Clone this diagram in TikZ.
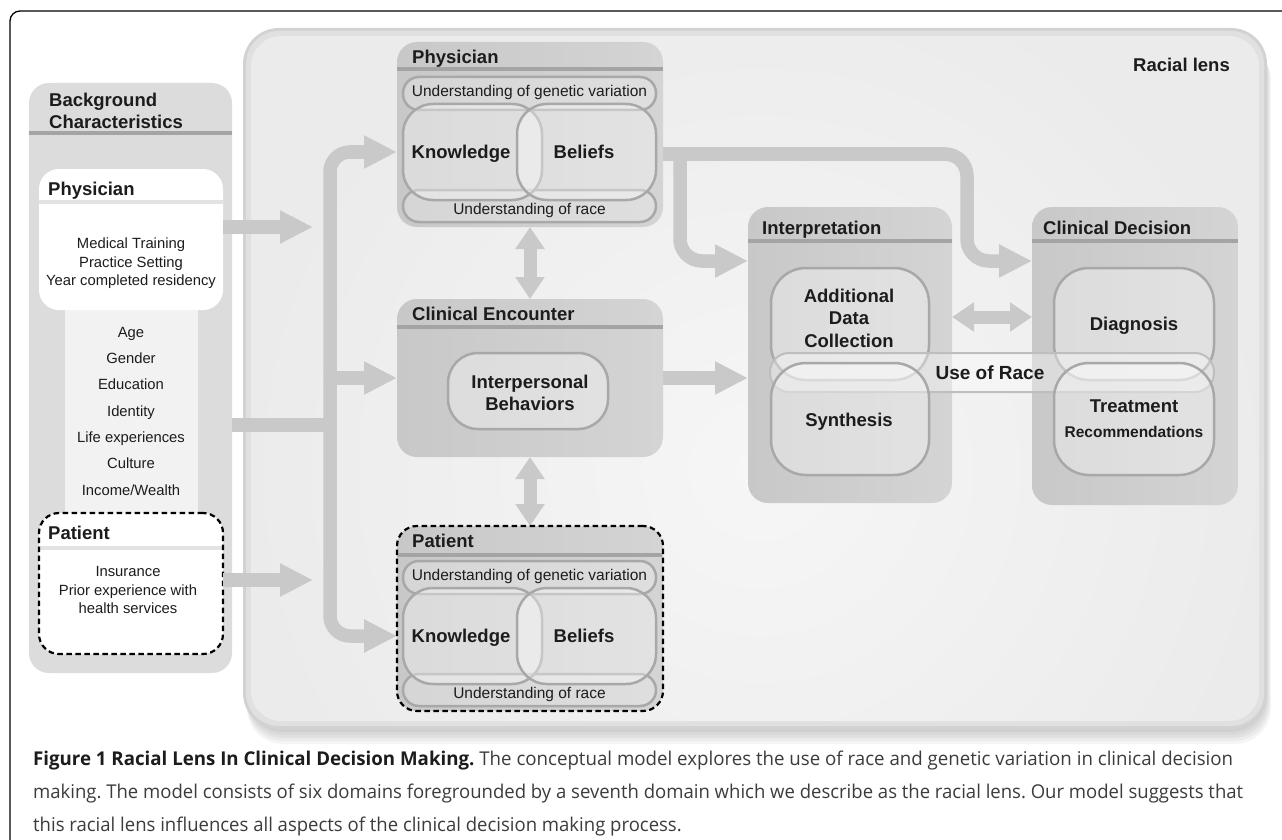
\documentclass[tikz,border=0pt]{standalone}
\usepackage{fontspec}
\usepackage{graphicx}
\setmainfont{Liberation Sans}
\newfontfamily\capfont{Open Sans}
\usetikzlibrary{arrows.meta,calc}
\pgfdeclarelayer{back}
\pgfdeclarelayer{arrowsl}
\pgfsetlayers{back,arrowsl,main}
\definecolor{lensbg}{HTML}{EBEBEB}
\definecolor{lensglow}{HTML}{F6F6F6}
\definecolor{lensrim}{HTML}{D2D2D2}
\definecolor{lensmid}{HTML}{E0E0E0}
\definecolor{bgbox}{HTML}{DCDCDC}
\definecolor{stripc}{HTML}{F1F2F1}
\definecolor{sepdark}{HTML}{A4A4A4}
\definecolor{seplight}{HTML}{E3E3E3}
\definecolor{domA}{HTML}{C8C8C8}
\definecolor{domB}{HTML}{D4D4D4}
\definecolor{instroke}{HTML}{A8A8A8}
\definecolor{arrowc}{HTML}{C9C9C9}
\definecolor{txt}{HTML}{1C1C1C}
\definecolor{captxt}{HTML}{3C3C3C}
\newlength\capwB
\newcommand\captwo{making. The model consists of six domains foregrounded by a seventh domain which we describe as the racial lens. Our model suggests that}
\tikzset{
  hdr/.style={font=\fontsize{18.5}{22}\selectfont\bfseries, text=txt, inner sep=0pt, anchor=base west},
  bld/.style={font=\fontsize{18.5}{22}\selectfont\bfseries, text=txt, inner sep=0pt, anchor=base},
  reg/.style={font=\fontsize{14.8}{17}\selectfont, text=txt, inner sep=0pt, anchor=base},
  und/.style={font=\fontsize{15.5}{18}\selectfont, text=txt, inner sep=0pt, anchor=base},
  dom/.style={rectangle, rounded corners=20pt, inner sep=0pt, outer sep=0pt, left color=domA, right color=domB, draw=none},
  whitebox/.style={rectangle, rounded corners=20pt, inner sep=0pt, outer sep=0pt, fill=white},
  dashbox/.style={draw=black, line width=2.2pt, dash pattern=on 5.5pt off 3.5pt},
  capsule/.style={rectangle, rounded corners=16pt, inner sep=0pt, outer sep=0pt, draw=instroke, line width=2.5pt, fill=white, fill opacity=0.25},
  roundbox/.style={rectangle, rounded corners=30pt, inner sep=0pt, outer sep=0pt, draw=instroke, line width=2.5pt, fill=white, fill opacity=0.35},
  sepline/.style={line width=4pt},
  fat/.style={draw=arrowc, line width=13.5pt},
  fatarrow/.style={fat, -{Triangle[width=31pt,length=33pt]}},
  dbl/.style={draw=arrowc, line width=13pt, {Triangle[width=28pt,length=22pt]}-{Triangle[width=28pt,length=22pt]}},
}
\begin{document}
\frenchspacing
\settowidth\capwB{\capfont\fontsize{19}{23}\selectfont\captwo}%
\pgfmathsetmacro\capsc{1210/\capwB}%
\begin{tikzpicture}[x=1pt,y=-1pt]
\useasboundingbox (0,0) rectangle (1282,840);
\begin{pgfonlayer}{back}
\fill[white] (0,0) rectangle (1282,840);
\begin{scope}
  \clip (0,0) rectangle (1282,840);
  \draw[black, line width=1.3pt, rounded corners=10pt] (10,11) rectangle (1330,880);
\end{scope}
% racial lens
\foreach \d in {3,6,9,12,15}{
  \fill[black,opacity=0.04,rounded corners=36pt] (247,30+\d) rectangle (1265+\d/2.5,729+\d);
}
\fill[lensrim, rounded corners=36pt] (243,28) rectangle (1267,729);
\fill[lensmid, rounded corners=33pt] (246,31) rectangle (1264,726);
\fill[lensbg, rounded corners=30pt] (251,36) rectangle (1259,721);
\begin{scope}
  \clip[rounded corners=30pt] (251,36) rectangle (1259,721);
  \shade[inner color=lensglow, outer color=lensbg] (760,470) circle (520);
\end{scope}
% background characteristics
\node[rectangle, rounded corners=20pt, inner sep=0pt, outer sep=0pt, fill=bgbox, minimum width=203pt, minimum height=590pt] (bg) at (130.5,378) {};
\draw[sepdark, sepline] ($(bg.north west)+(0,50)$) -- ($(bg.north east)+(0,50)$);
\fill[stripc] (65,300) rectangle (198,522);
\node[whitebox, minimum width=184pt, minimum height=141pt] (ph) at (131,239.5) {};
\draw[seplight, sepline] ($(ph.north west)+(0,33)$) -- ($(ph.north east)+(0,33)$);
\node[whitebox, minimum width=184pt, minimum height=141pt] (pa) at (131,583.5) {};
\draw[seplight, sepline] ($(pa.north west)+(0,35)$) -- ($(pa.north east)+(0,35)$);
\node[rectangle, rounded corners=20pt, inner sep=0pt, outer sep=0pt, dashbox, minimum width=184pt, minimum height=141pt] (paframe) at (pa) {};
\end{pgfonlayer}

\node[hdr] (bgt1) at (49,106.6) {Background};
\node[hdr] (bgt2) at (49,128.6) {Characteristics};
\node[hdr] (pht) at (48,195.6) {Physician};
\node[reg] (ph1) at (131,248.3) {Medical Training};
\node[reg] (ph2) at (131,267.3) {Practice Setting};
\node[reg] (ph3) at (131,285.3) {Year completed residency};
\node[reg] (l1) at (131,337.3) {Age};
\node[reg] (l2) at (131,363.3) {Gender};
\node[reg] (l3) at (131,389.3) {Education};
\node[reg] (l4) at (131,416.3) {Identity};
\node[reg] (l5) at (131,442.3) {Life experiences};
\node[reg] (l6) at (131,468.3) {Culture};
\node[reg] (l7) at (131,495.3) {Income/Wealth};
\node[hdr] (pat) at (48,539.6) {Patient};
\node[reg] (pa1) at (128,576.3) {Insurance};
\node[reg] (pa2) at (128,595.3) {Prior experience with};
\node[reg] (pa3) at (128,613.3) {health services};

\node[bld, anchor=base east] (lenst) at (1230,71.6) {Racial lens};

% Physician domain
\node[dom, minimum width=266pt, minimum height=185pt] (pd) at (530,134.5) {};
\draw[sepdark, sepline] ($(pd.north west)+(0,27)$) -- ($(pd.north east)+(0,27)$);
\node[capsule, minimum width=253pt, minimum height=33pt] (pdgen) at (529.5,93.5) {};
\node[capsule, minimum width=253pt, minimum height=32pt] (pdrace) at (529.5,206) {};
\node[roundbox, minimum width=139pt, minimum height=96pt] (pdkn) at (472.5,152) {};
\node[roundbox, minimum width=139pt, minimum height=96pt] (pdbe) at (586.5,152) {};
\node[hdr] (pdt) at (412,63.6) {Physician};
\node[und] (pdgent) at (529.5,96.6) {Understanding of genetic variation};
\node[und] (pdracet) at (529.5,214.5) {Understanding of race};
\node[bld] (pdknt) at (461,158.6) {Knowledge};
\node[bld] (pdbet) at (584,158.6) {Beliefs};

% Clinical encounter
\node[dom, minimum width=266pt, minimum height=158pt] (ce) at (530,378) {};
\draw[sepdark, sepline] ($(ce.north west)+(0,28)$) -- ($(ce.north east)+(0,28)$);
\node[roundbox, minimum width=160pt, minimum height=76pt] (ceib) at (528,391) {};
\node[hdr] (cet) at (412,320.6) {Clinical Encounter};
\node[bld] (ceib1) at (530,388.6) {Interpersonal};
\node[bld] (ceib2) at (530,410.6) {Behaviors};

% Patient domain
\node[dom, dashbox, minimum width=266pt, minimum height=185pt] (pt) at (530,618.5) {};
\draw[sepdark, sepline] ($(pt.north west)+(1.1,29)$) -- ($(pt.north east)+(-1.1,29)$);
\node[capsule, minimum width=253pt, minimum height=33pt] (ptgen) at (529.5,577.5) {};
\node[capsule, minimum width=253pt, minimum height=32pt] (ptrace) at (529.5,690) {};
\node[roundbox, minimum width=139pt, minimum height=96pt] (ptkn) at (472.5,636) {};
\node[roundbox, minimum width=139pt, minimum height=96pt] (ptbe) at (586.5,636) {};
\node[hdr] (ptt) at (412,547.6) {Patient};
\node[und] (ptgent) at (529.5,580.6) {Understanding of genetic variation};
\node[und] (ptracet) at (529.5,698.5) {Understanding of race};
\node[bld] (ptknt) at (461,642.6) {Knowledge};
\node[bld] (ptbet) at (584,642.6) {Beliefs};

% Interpretation
\node[dom, minimum width=204pt, minimum height=296pt] (ip) at (850,355) {};
\draw[sepdark, sepline] ($(ip.north west)+(0,34)$) -- ($(ip.north east)+(0,34)$);
% Clinical decision
\node[dom, minimum width=206pt, minimum height=298pt] (cd) at (1135,356) {};
\draw[sepdark, sepline] ($(cd.north west)+(0,34)$) -- ($(cd.north east)+(0,34)$);
\node[roundbox, rounded corners=35pt, minimum width=158pt, minimum height=112pt] (adc) at (850,324) {};
\node[roundbox, rounded corners=35pt, minimum width=160pt, minimum height=112pt] (dg) at (1134,324) {};
\node[capsule, rounded corners=19pt, draw=instroke!75, line width=2pt, fill opacity=0.35, minimum width=444pt, minimum height=39pt] (uor) at (992,372.5) {};
\node[roundbox, rounded corners=35pt, minimum width=158pt, minimum height=112pt] (syn) at (850,419) {};
\node[roundbox, rounded corners=35pt, minimum width=160pt, minimum height=112pt] (tr) at (1134,419) {};
\node[hdr] (ipt) at (762,234.6) {Interpretation};
\node[hdr] (cdt) at (1043,234.6) {Clinical Decision};
\node[bld] (adc1) at (849,302.6) {Additional};
\node[bld] (adc2) at (849,324.6) {Data};
\node[bld] (adc3) at (849,347.6) {Collection};
\node[bld] (synt) at (849,426.6) {Synthesis};
\node[bld] (dgt) at (1134,330.6) {Diagnosis};
\node[bld] (tr1) at (1134,412.6) {Treatment};
\node[bld, font=\fontsize{15.5}{18}\selectfont\bfseries] (tr2) at (1134,437.6) {Recommendations};
\node[bld, font=\fontsize{19}{22}\selectfont\bfseries] (uort) at (990,379.8) {Use of Race};

% connectors
\begin{pgfonlayer}{arrowsl}
\coordinate (tj) at (330,425);
\coordinate (a1e) at (313,227);
\coordinate (a3e) at (313,580);
\coordinate (hy) at (0,261);
\coordinate (hy2) at (0,317);
\coordinate (j2) at (680,154);
\coordinate (j3) at (967,154);
\draw[fatarrow] (ph.east |- a1e) -- (a1e);
\draw[fatarrow] (pa.east |- a3e) -- (a3e);
\draw[fat] (bg.east |- tj) -- (tj);
\draw[fatarrow, rounded corners=20pt] (tj) |- (pd.west |- pdkn);
\draw[fatarrow, rounded corners=20pt] (tj) |- (pt.west |- ptkn);
\draw[fatarrow] (tj |- ce.west) -- (ce.west);
\draw[fatarrow] (ce.east) -- (ip.west |- ce.east);
\draw[fatarrow, rounded corners=22pt] (pd.east |- j3) -| (j3 |- hy) -- (cd.west |- hy);
\draw[fatarrow, rounded corners=22pt] (j2) |- (ip.west |- hy);
\draw[dbl] (pd.south) -- (ce.north);
\draw[dbl] (ce.south) -- (pt.north);
\draw[dbl] (ip.east |- hy2) -- (cd.west |- hy2);
\end{pgfonlayer}

% caption
\node[anchor=base west, inner sep=0pt] (cap1) at (33,765) {\resizebox{1200pt}{\height}{\capfont\fontsize{19}{23}\selectfont\textcolor{txt}{\bfseries Figure 1 Racial Lens In Clinical Decision Making.}\ \textcolor{captxt}{The conceptual model explores the use of race and genetic variation in clinical decision}}};
\node[anchor=base west, inner sep=0pt] (cap2) at (33,798) {\scalebox{\capsc}[1]{\capfont\fontsize{19}{23}\selectfont\textcolor{captxt}{\captwo}}};
\node[anchor=base west, inner sep=0pt] (cap3) at (33,831) {\scalebox{\capsc}[1]{\capfont\fontsize{19}{23}\selectfont\textcolor{captxt}{this racial lens influences all aspects of the clinical decision making process.}}};
\end{tikzpicture}
\end{document}
